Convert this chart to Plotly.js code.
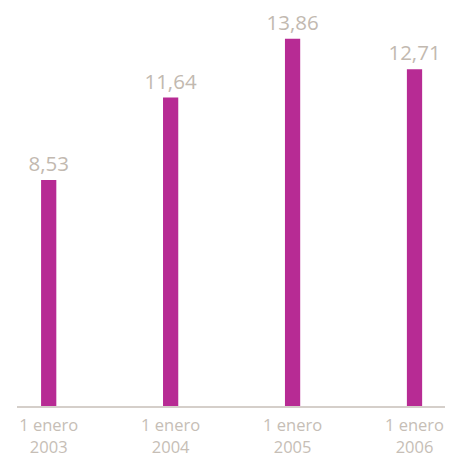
<!DOCTYPE html>
<html><head><meta charset="utf-8">
<script src="https://cdn.plot.ly/plotly-3.0.1.min.js"></script>
<style>html,body{margin:0;padding:0;background:#fff}#c{width:459px;height:457px}</style>
</head><body><div id="c"></div>
<script>
var categories = ["1 enero<br>2003", "1 enero<br>2004", "1 enero<br>2005", "1 enero<br>2006"];
var values = [8.53, 11.64, 13.86, 12.71];

var trace = {
  type: 'bar',
  x: [0, 1, 2, 3],
  y: values,
  width: 0.125,
  marker: {color: '#B72B94'},
  text: values.map(function(v){return v.toFixed(2).replace('.', ',');}),
  textposition: 'outside',
  constraintext: 'none',
  textfont: {family: 'Open Sans, sans-serif', size: 20.5, color: '#C2B9B0'},
  cliponaxis: false,
  hoverinfo: 'none'
};
var layout = {
  width: 459, height: 457,
  margin: {l: 17, r: 14, t: 20, b: 51},
  paper_bgcolor: '#fff', plot_bgcolor: '#fff',
  showlegend: false,
  separators: ',.',
  xaxis: {
    range: [-0.26, 3.25],
    tickvals: [0, 1, 2, 3],
    ticktext: categories,
    showline: true, linecolor: '#D5CFCA', linewidth: 1.5,
    showgrid: false, zeroline: false, ticks: '',
    ticklabelstandoff: 4,
    tickfont: {family: 'Open Sans, sans-serif', size: 16.5, color: '#C6BEB6'}
  },
  yaxis: {
    range: [0, 14.57],
    visible: false, showgrid: false, zeroline: false
  }
};
Plotly.newPlot('c', [trace], layout, {displayModeBar: false, staticPlot: true});
</script>
</body></html>
